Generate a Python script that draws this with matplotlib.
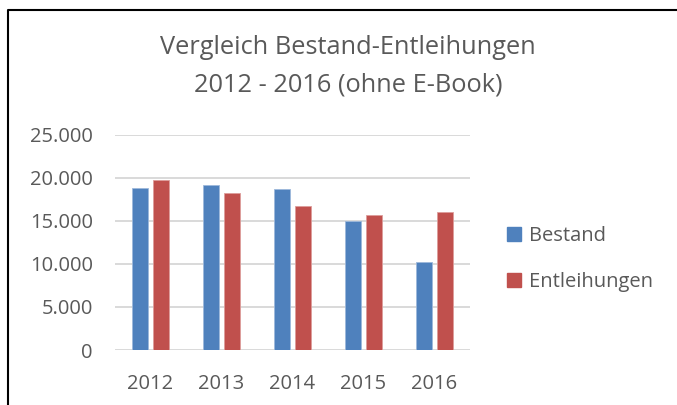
import matplotlib
matplotlib.use("Agg")
import matplotlib.pyplot as plt
from matplotlib.lines import Line2D
from matplotlib.patches import Patch
import numpy as np

plt.rcParams['font.family'] = ['Open Sans', 'DejaVu Sans']

# data
years = ['2012', '2013', '2014', '2015', '2016']
bestand = [18770, 19120, 18730, 14980, 10180]
entleihungen = [19740, 18270, 16720, 15670, 16060]

W, H = 677, 405
grey = '#595959'

fig = plt.figure(figsize=(W / 100, H / 100), dpi=100)

# plot area in pixel terms
left, right, top, bottom = 115, 470, 134.7, 350
ax = fig.add_axes([left / W, 1 - bottom / H, (right - left) / W, (bottom - top) / H])

x = np.arange(len(years))
bw = 0.22
off = 0.145
ax.bar(x - off, bestand, bw, color='#4F81BD', edgecolor='#9DB8DB', linewidth=0.6,
       label='Bestand', zorder=3)
ax.bar(x + off, entleihungen, bw, color='#C0504D', edgecolor='#DD9D9B', linewidth=0.6,
       label='Entleihungen', zorder=3)

ax.set_xlim(-0.5, len(years) - 0.5)
ax.set_ylim(0, 25000)
ax.set_yticks(range(0, 25001, 5000))
ax.set_yticklabels([f'{v:,}'.replace(',', '.') for v in range(0, 25001, 5000)])
ax.set_xticks(x)
ax.set_xticklabels(years)
ax.yaxis.grid(True, color='#D9D9D9', linewidth=1.4, zorder=0)
for s in ax.spines.values():
    s.set_visible(False)
ax.tick_params(axis='y', length=0, labelsize=14.5, colors=grey, pad=16)
ax.tick_params(axis='x', length=0, labelsize=14.5, colors=grey, pad=17)

fig.text(348 / W, 1 - 47 / H, 'Vergleich Bestand-Entleihungen', ha='center', va='center',
         fontsize=18.3, color=grey)
fig.text(348 / W, 1 - 85 / H, '2012 - 2016 (ohne E-Book)', ha='center', va='center',
         fontsize=18.3, color=grey)

handles = [Patch(color='#4F81BD'), Patch(color='#C0504D')]
fig.legend(handles, ['Bestand', 'Entleihungen'], loc='center left',
           bbox_to_anchor=(489 / W, 1 - 259 / H), frameon=False, fontsize=14.5,
           labelcolor=grey, handlelength=0.7, handleheight=0.7, handletextpad=0.4,
           labelspacing=1.3)

# outer frame (left and top edges visible)
fig.add_artist(Line2D([8 / W, 8 / W, 1.0], [0.0, 1 - 10 / H, 1 - 10 / H],
                      color='black', linewidth=1.5, transform=fig.transFigure))

fig.savefig('out.png', dpi=100)
